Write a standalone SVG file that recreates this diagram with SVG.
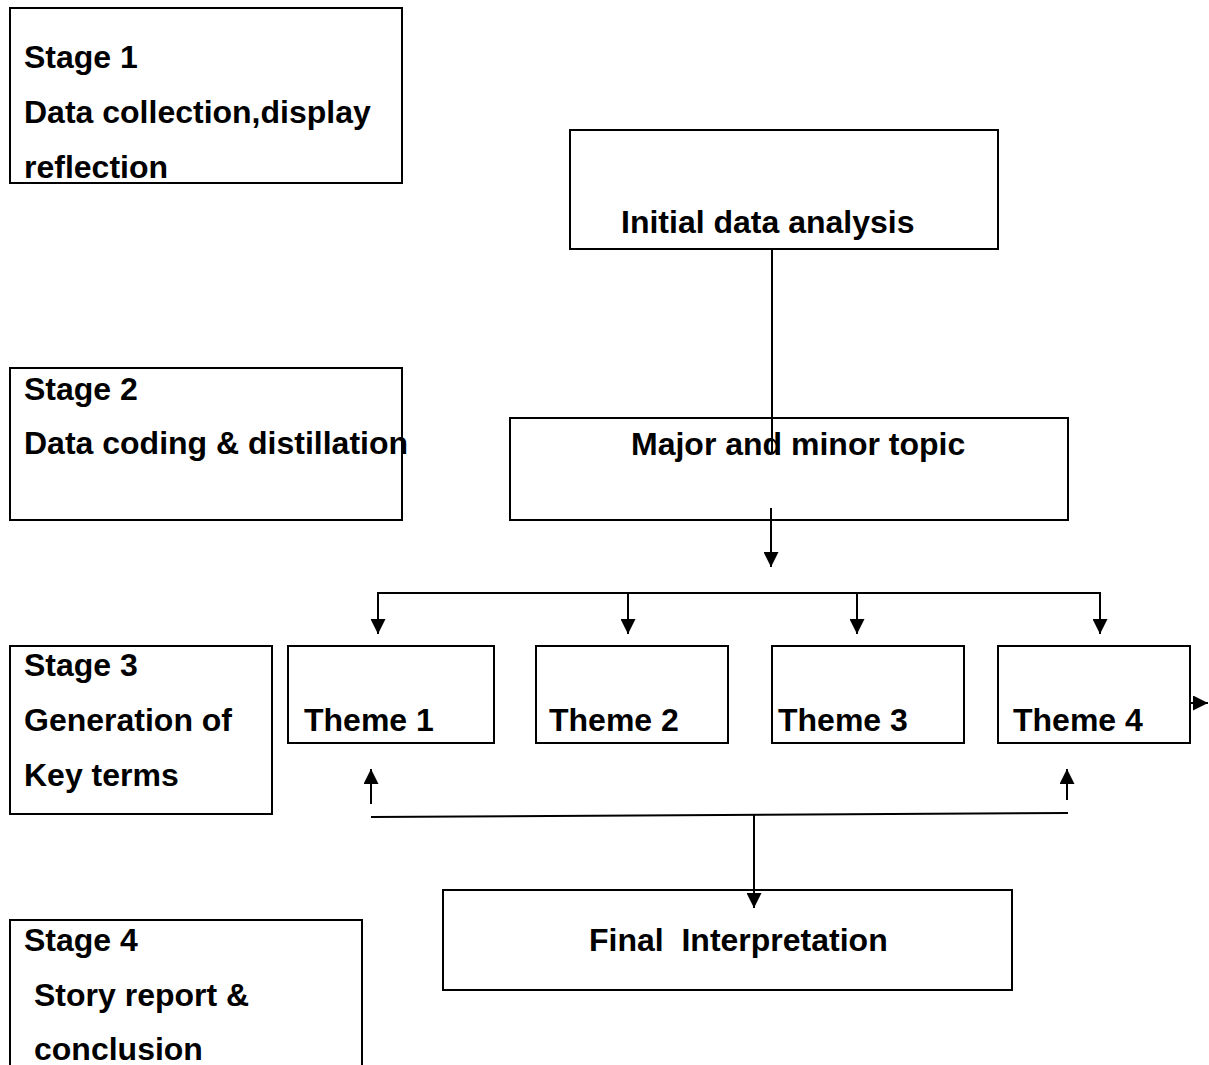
<svg xmlns="http://www.w3.org/2000/svg" width="1209" height="1065" viewBox="0 0 1209 1065">
<defs>
<style>
.box{fill:#fff;stroke:#000;stroke-width:2}
.t{font-family:"Liberation Sans",Arial,sans-serif;font-weight:bold;font-size:32px;fill:#000;white-space:pre}
.ln{stroke:#000;stroke-width:2;fill:none}
</style>
<marker id="ah" viewBox="0 0 10 10" refX="10" refY="5" markerWidth="15" markerHeight="15" markerUnits="userSpaceOnUse" orient="auto">
<path d="M0,0 L10,5 L0,10 z" fill="#000"/>
</marker>
</defs>
<rect width="1209" height="1065" fill="#fff"/>
<g id="stage1"><rect class="box" x="10" y="8" width="392" height="175"/>
<text class="t" x="24" y="68">Stage 1</text><text class="t" x="24" y="123">Data collection,display</text><text class="t" x="24" y="178">reflection</text></g>
<g id="stage2"><rect class="box" x="10" y="368" width="392" height="152"/>
<text class="t" x="24" y="400">Stage 2</text><text class="t" x="24" y="454">Data coding &amp; distillation</text></g>
<g id="stage3"><rect class="box" x="10" y="646" width="262" height="168"/>
<text class="t" x="24" y="676">Stage 3</text><text class="t" x="24" y="731">Generation of</text><text class="t" x="24" y="786">Key terms</text></g>
<g id="stage4"><rect class="box" x="10" y="920" width="352" height="150"/>
<text class="t" x="24" y="951">Stage 4</text><text class="t" x="34" y="1006">Story report &amp;</text><text class="t" x="34" y="1060">conclusion</text></g>
<g id="initial"><rect class="box" x="570" y="130" width="428" height="119"/>
<text class="t" x="621" y="233">Initial data analysis</text></g>
<g id="major"><rect class="box" x="510" y="418" width="558" height="102"/>
<text class="t" x="631" y="455">Major and minor topic</text></g>
<g id="theme1"><rect class="box" x="288" y="646" width="206" height="97"/><text class="t" x="304" y="731">Theme 1</text></g>
<g id="theme2"><rect class="box" x="536" y="646" width="192" height="97"/><text class="t" x="549" y="731">Theme 2</text></g>
<g id="theme3"><rect class="box" x="772" y="646" width="192" height="97"/><text class="t" x="778" y="731">Theme 3</text></g>
<g id="theme4"><rect class="box" x="998" y="646" width="192" height="97"/><text class="t" x="1013" y="731">Theme 4</text></g>
<g id="final"><rect class="box" x="443" y="890" width="569" height="100"/><text class="t" x="589" y="951" xml:space="preserve">Final  Interpretation</text></g>
<g id="connectors">
<line class="ln" x1="772" y1="249" x2="772" y2="452"/>
<line class="ln" x1="771" y1="508" x2="771" y2="567" marker-end="url(#ah)"/>
<line class="ln" x1="378" y1="593" x2="1100" y2="593"/>
<line class="ln" x1="378" y1="592" x2="378" y2="634" marker-end="url(#ah)"/>
<line class="ln" x1="628" y1="593" x2="628" y2="634" marker-end="url(#ah)"/>
<line class="ln" x1="857" y1="593" x2="857" y2="634" marker-end="url(#ah)"/>
<line class="ln" x1="1100" y1="592" x2="1100" y2="634" marker-end="url(#ah)"/>
<line class="ln" x1="1190" y1="703" x2="1208" y2="703" marker-end="url(#ah)"/>
<line class="ln" x1="371" y1="804" x2="371" y2="769" marker-end="url(#ah)"/>
<line class="ln" x1="1067" y1="800" x2="1067" y2="769" marker-end="url(#ah)"/>
<line class="ln" x1="371" y1="817" x2="1068" y2="813"/>
<line class="ln" x1="754" y1="815" x2="754" y2="908" marker-end="url(#ah)"/>
</g>
</svg>
